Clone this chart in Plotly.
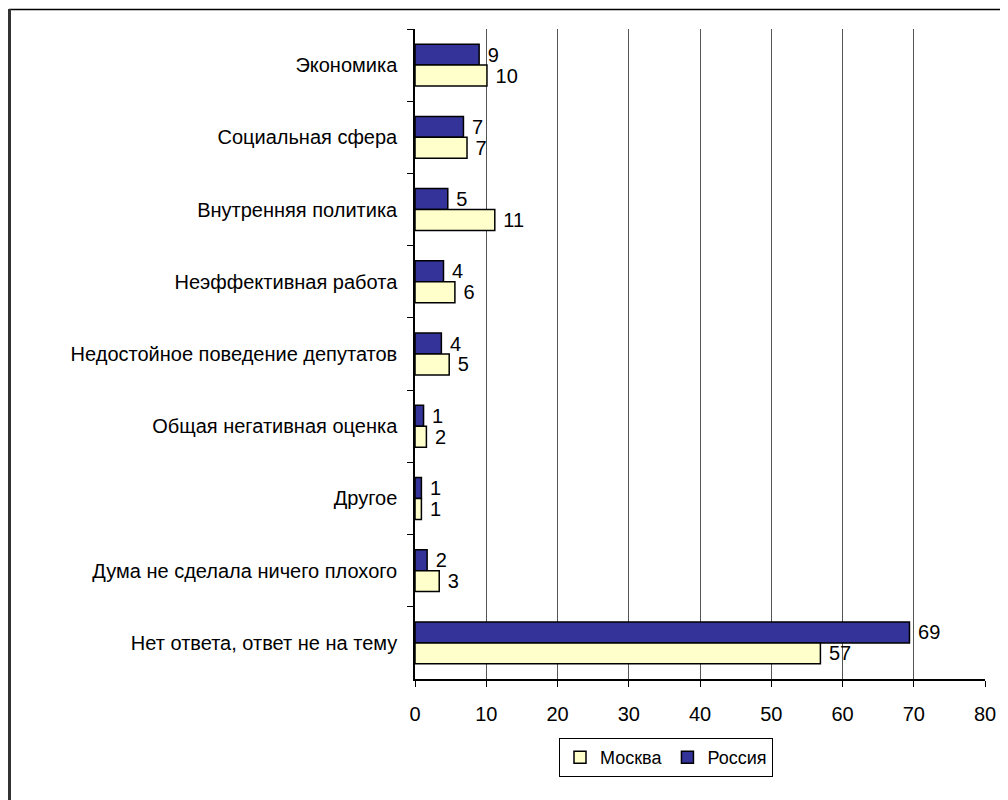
import plotly.graph_objects as go

categories = [
    "Экономика",
    "Социальная сфера",
    "Внутренняя политика",
    "Неэффективная работа",
    "Недостойное поведение депутатов",
    "Общая негативная оценка",
    "Другое",
    "Дума не сделала ничего плохого",
    "Нет ответа, ответ не на тему",
]
russia = [9.0, 6.8, 4.6, 4.0, 3.7, 1.2, 0.9, 1.7, 69.4]
moscow = [10.1, 7.3, 11.2, 5.6, 4.8, 1.6, 0.9, 3.4, 56.9]
x_ticks = [0, 10, 20, 30, 40, 50, 60, 70, 80]

FONT = "Liberation Sans, Arial, sans-serif"
FS = 20

fig = go.Figure()
fig.add_trace(go.Bar(
    y=categories, x=russia, orientation="h", name="Россия",
    marker=dict(color="#333399", line=dict(color="#000000", width=1.5)),
    texttemplate=" %{x:.0f}", textposition="outside", cliponaxis=False,
    textfont=dict(size=FS, color="#000000", family=FONT),
    constraintext="none", legendrank=2,
))
fig.add_trace(go.Bar(
    y=categories, x=moscow, orientation="h", name="Москва",
    marker=dict(color="#FFFFCC", line=dict(color="#000000", width=1.5)),
    texttemplate=" %{x:.0f}", textposition="outside", cliponaxis=False,
    textfont=dict(size=FS, color="#000000", family=FONT),
    constraintext="none", legendrank=1,
))

# page has an 8px body margin; figure coordinates below are page - 8
W, H = 1000, 792
L, R, T, B = 407, 977, 21, 671
pw, ph = R - L, B - T

fig.update_layout(
    width=W, height=H,
    margin=dict(l=L, r=W - R, t=T, b=H - B, autoexpand=False),
    paper_bgcolor="white", plot_bgcolor="white",
    barmode="group", bargap=0.42, bargroupgap=0,
    font=dict(family=FONT, size=FS, color="#000000"),
    showlegend=True,
    legend=dict(
        orientation="h", x=(658 - L) / pw, xanchor="center",
        y=(B - 730) / ph, yanchor="top",
        bordercolor="#000000", borderwidth=1,
        font=dict(size=18, family=FONT),
        itemwidth=30, tracegroupgap=0,
    ),
    xaxis=dict(
        range=[0, 80], tickvals=x_ticks, ticktext=[str(v) for v in x_ticks],
        showgrid=True, gridcolor="#555555", gridwidth=1,
        showline=True, linecolor="#000000", linewidth=1.5,
        ticks="outside", ticklen=6, tickcolor="#000000",
        zeroline=False, fixedrange=True,
        ticklabelstandoff=10,
        tickfont=dict(size=FS, family=FONT),
    ),
    yaxis=dict(
        type="category", categoryorder="array", categoryarray=categories,
        autorange="reversed",
        showline=True, linecolor="#000000", linewidth=1.5,
        ticks="outside", ticklen=6, tickcolor="#000000",
        tickson="boundaries", showgrid=False,
        ticklabelstandoff=12,
        tickfont=dict(size=FS, family=FONT),
    ),
    shapes=[
        dict(type="line", xref="paper", yref="paper",
             x0=(1 - L) / pw, x1=(W + 20 - L) / pw,
             y0=(B - 1.5) / ph, y1=(B - 1.5) / ph,
             line=dict(color="#000000", width=1.5)),
        dict(type="line", xref="paper", yref="paper",
             x0=(1.5 - L) / pw, x1=(1.5 - L) / pw,
             y0=(B - 1) / ph, y1=(B - H - 20) / ph,
             line=dict(color="#333333", width=3)),
    ],
)

fig.write_html("out.html")
